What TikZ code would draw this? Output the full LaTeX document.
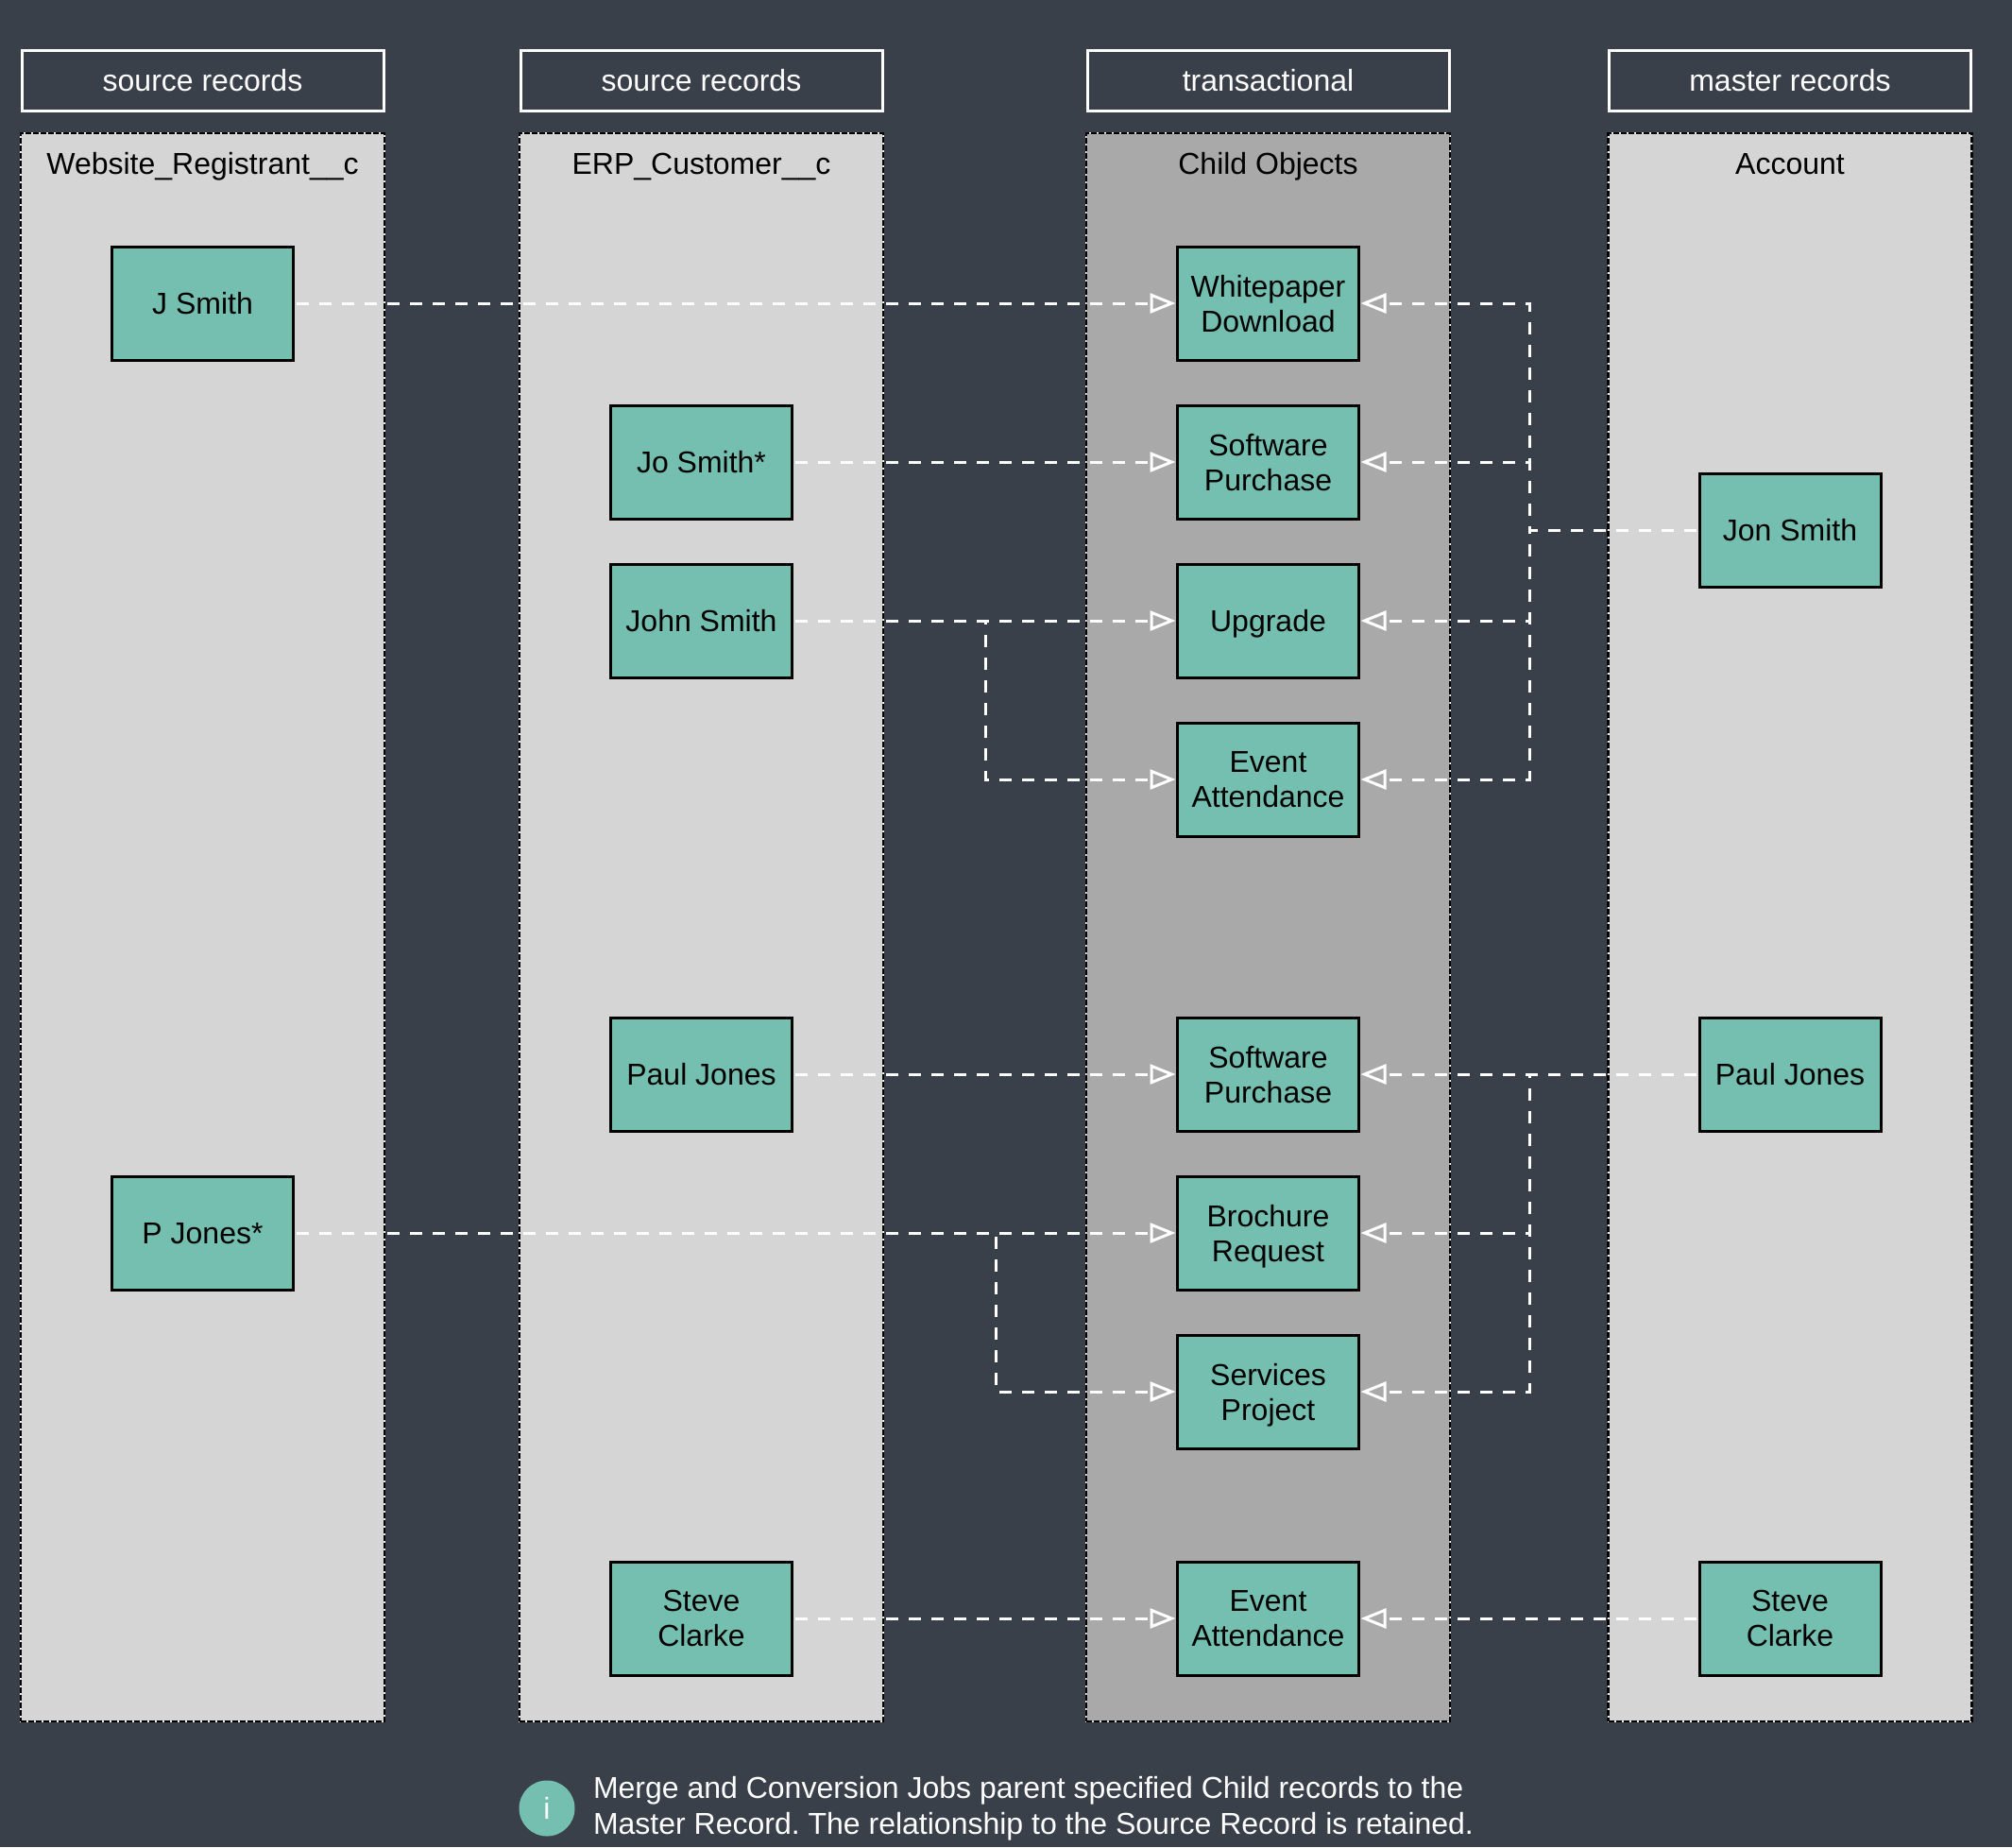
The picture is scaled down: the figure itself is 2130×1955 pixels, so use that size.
\documentclass[tikz,border=0pt]{standalone}
\usepackage{fontspec}
\setmainfont{Liberation Sans}
\usetikzlibrary{arrows.meta, positioning, calc}
\definecolor{slatebg}{HTML}{3A404A}
\definecolor{lightpanel}{HTML}{D5D5D5}
\definecolor{darkpanel}{HTML}{A9A9A9}
\definecolor{tealbox}{HTML}{74BFB0}
\frenchspacing

\begin{document}
\begin{tikzpicture}[x=0.5pt, y=-0.5pt, >={Triangle[open, length=13.5pt, width=10.5pt]},
    every node/.style={font=\fontsize{16}{18.5}\selectfont, align=center, outer sep=0pt},
    hdr/.style={draw=white, line width=1.5pt, text=white, minimum width=191.5pt, minimum height=32pt},
    panel/.style={preaction={draw=white, solid, line width=0.75pt}, draw=black, line width=1.25pt, dash pattern=on 3pt off 1pt, minimum width=192.5pt, minimum height=840.5pt},
    rec/.style={draw=black, line width=1.5pt, fill=tealbox, minimum width=96pt, minimum height=60pt, text depth=0pt},
    title/.style={text depth=0pt},
    link/.style={draw=white, line width=1.5pt, dash pattern=on 6.5pt off 5.5pt, shorten <=1.5pt, shorten >=1pt}]
    \useasboundingbox[fill=slatebg] (0, 0) rectangle (2130, 1955);

    \node (P1) at (214.5, 981.5) [panel, fill=lightpanel] {};
    \node (P2) at (742.5, 981.5) [panel, fill=lightpanel] {};
    \node (P3) at (1342.5, 981.5) [panel, fill=darkpanel] {};
    \node (P4) at (1895, 981.5) [panel, fill=lightpanel] {};

    \node (H1) [hdr, above=12pt of P1] {source records};
    \node (H2) [hdr, above=12pt of P2] {source records};
    \node (H3) [hdr, above=12pt of P3] {transactional};
    \node (H4) [hdr, above=12pt of P4] {master records};

    \node (T1) at (214.5, 173) [title] {Website\_Registrant\_\_c};
    \node (T2) at (742.5, 173) [title] {ERP\_Customer\_\_c};
    \node (T3) at (1342.5, 173) [title] {Child Objects};
    \node (T4) at (1895, 173) [title] {Account};

    \node (JSmith) at (214.5, 321) [rec] {J Smith};
    \node (PJones) at (214.5, 1305) [rec] {P Jones*};

    \node (JoSmith) at (742.5, 489) [rec] {Jo Smith*};
    \node (JohnSmith) at (742.5, 657) [rec] {John Smith};
    \node (PaulSrc) at (742.5, 1137) [rec] {Paul Jones};
    \node (SteveSrc) at (742.5, 1713) [rec] {Steve\\Clarke};

    \node (Whitepaper) at (1342.5, 321) [rec] {Whitepaper\\Download};
    \node (SoftA) at (1342.5, 489) [rec] {Software\\Purchase};
    \node (Upgrade) at (1342.5, 657) [rec] {Upgrade};
    \node (EventA) at (1342.5, 825) [rec] {Event\\Attendance};
    \node (SoftB) at (1342.5, 1137) [rec] {Software\\Purchase};
    \node (Brochure) at (1342.5, 1305) [rec] {Brochure\\Request};
    \node (Services) at (1342.5, 1473) [rec] {Services\\Project};
    \node (EventB) at (1342.5, 1713) [rec] {Event\\Attendance};

    \node (JonSmith) at (1895, 561) [rec] {Jon Smith};
    \node (PaulMst) at (1895, 1137) [rec] {Paul Jones};
    \node (SteveMst) at (1895, 1713) [rec] {Steve\\Clarke};

    \coordinate (JohnDrop) at (1043, 657);
    \coordinate (PDrop) at (1054, 1305);
    \coordinate (JonTrunk) at (1619, 561);
    \coordinate (PaulTrunk) at (1619, 1137);

    \draw[link, ->] (JSmith) -- (Whitepaper);
    \draw[link, ->] (JoSmith) -- (SoftA);
    \draw[link, ->] (JohnSmith) -- (Upgrade);
    \draw[link, ->] (JohnSmith) -- (JohnDrop) |- (EventA);
    \draw[link, ->] (PaulSrc) -- (SoftB);
    \draw[link, ->] (PJones) -- (Brochure);
    \draw[link, ->] (PJones) -- (PDrop) |- (Services);
    \draw[link, ->] (SteveSrc) -- (EventB);

    \draw[link, ->] (JonSmith) -- (JonTrunk) |- (Whitepaper);
    \draw[link, ->] (JonSmith) -- (JonTrunk) |- (SoftA);
    \draw[link, ->] (JonSmith) -- (JonTrunk) |- (Upgrade);
    \draw[link, ->] (JonSmith) -- (JonTrunk) |- (EventA);
    \draw[link, ->] (PaulMst) -- (SoftB);
    \draw[link, ->] (PaulMst) -- (PaulTrunk) |- (Brochure);
    \draw[link, ->] (PaulMst) -- (PaulTrunk) |- (Services);
    \draw[link, ->] (SteveMst) -- (EventB);

    \node (Info) at (579, 1914) [circle, fill=tealbox, text=white, minimum size=29.5pt, inner sep=0pt] {i};
    \node (Note) at (628, 1914) [anchor=west, align=left, text=white, inner sep=0pt, font=\fontsize{16}{19}\selectfont] {Merge and Conversion Jobs parent specified Child records to the\\Master Record. The relationship to the Source Record is retained.};
\end{tikzpicture}
\end{document}
